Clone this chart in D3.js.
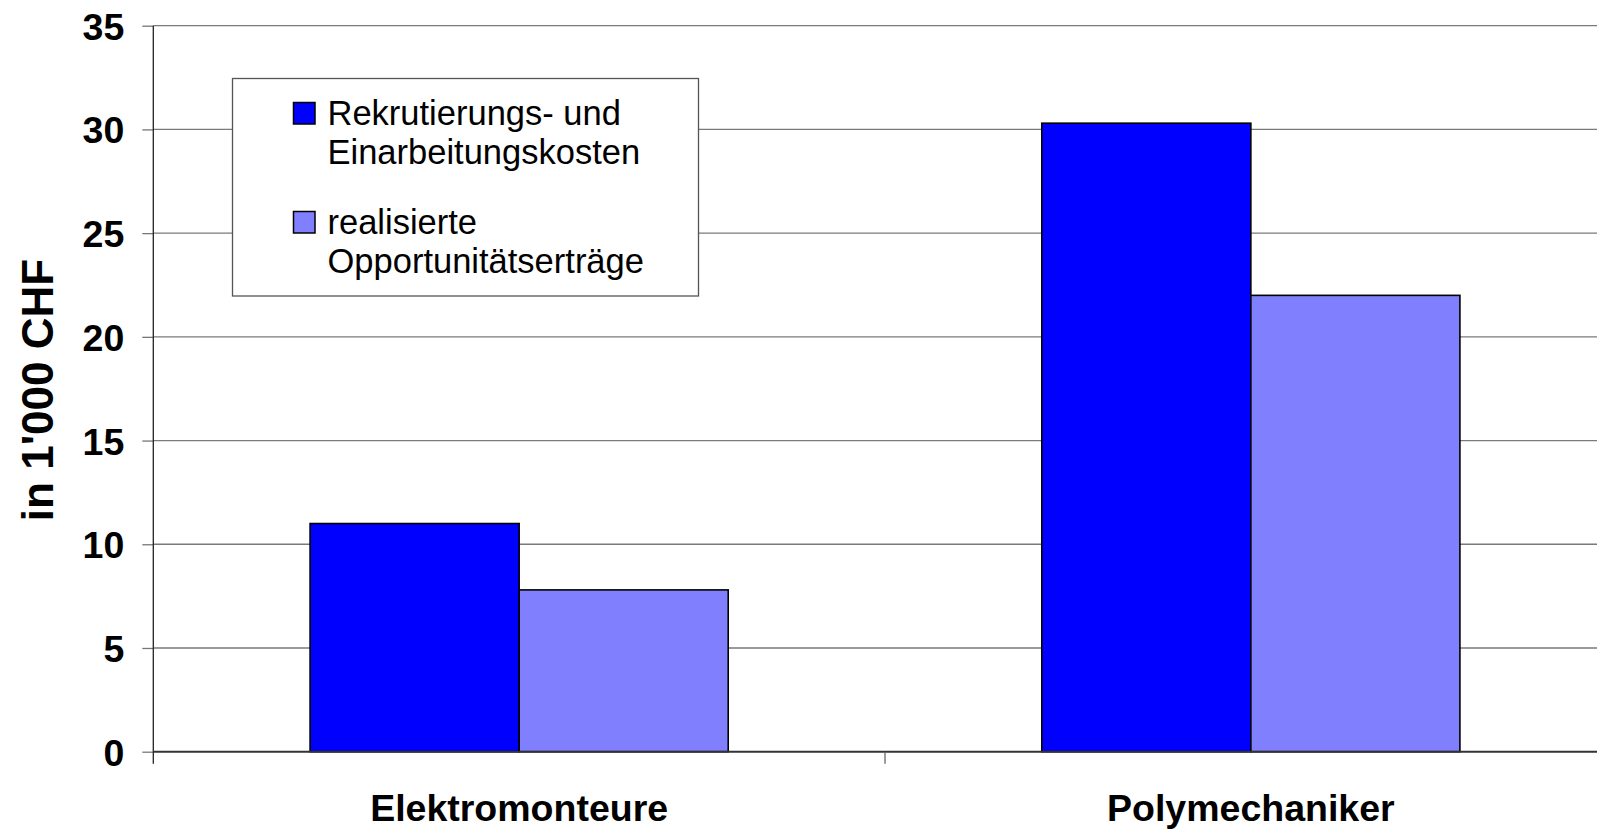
<!DOCTYPE html>
<html>
<head>
<meta charset="utf-8">
<script src="https://cdn.jsdelivr.net/npm/d3@7"></script>
<style>
  html, body { margin: 0; padding: 0; background: #fff; }
  svg { display: block; }
  text { font-family: "Liberation Sans", Arial, sans-serif; }
</style>
</head>
<body>
<svg id="chart" width="1597" height="830"></svg>
<script>
const categories = ["Elektromonteure", "Polymechaniker"];
const seriesNames = ["Rekrutierungs- und Einarbeitungskosten", "realisierte Opportunitätserträge"];
const seriesLegendLines = [["Rekrutierungs- und", "Einarbeitungskosten"], ["realisierte", "Opportunitätserträge"]];
const recruitingCosts = [11.0, 30.3];
const opportunityYields = [7.8, 22.0];
const yTicks = [0, 5, 10, 15, 20, 25, 30, 35];
const yTitle = "in 1'000 CHF";
const colors = ["#0000FF", "#8080FF"];

(function () {
const svg = d3.select("#chart");
const pLeft = 153.3, pRight = 1616.7, pTop = 25.7, pBottom = 751.7;

const x0 = d3.scaleBand().domain(categories).range([pLeft, pRight]).paddingInner(0).paddingOuter(0);
const x1 = d3.scaleBand().domain(seriesNames).range([0, x0.bandwidth()]).paddingInner(0).paddingOuter(0.75);
const y = d3.scaleLinear().domain([0, 35]).range([pBottom, pTop]);

// gridlines
svg.append("g").selectAll("line").data(yTicks.filter(d => d > 0)).join("line")
  .attr("x1", pLeft).attr("x2", 1597)
  .attr("y1", d => y(d)).attr("y2", d => y(d))
  .attr("stroke", "#7a7a7a").attr("stroke-width", 1.3);

// y axis
const yAxis = d3.axisLeft(y).tickValues(yTicks).tickSize(11).tickPadding(18).tickSizeOuter(0);
const yg = svg.append("g").attr("transform", `translate(${pLeft},0)`).call(yAxis);
yg.select(".domain").remove();
yg.selectAll(".tick line").attr("stroke", "#777").attr("stroke-width", 1.3);
yg.selectAll(".tick text")
  .attr("font-family", "'Liberation Sans', Arial, sans-serif")
  .attr("font-size", 37.5).attr("font-weight", "bold").attr("fill", "#000")
  .attr("dy", "0.36em");

// y-axis line (extends slightly below zero)
svg.append("line").attr("x1", pLeft).attr("x2", pLeft).attr("y1", pTop).attr("y2", pBottom + 12)
  .attr("stroke", "#222").attr("stroke-width", 1.3);

// legend
const legend = svg.append("g");
legend.append("rect").attr("x", 232.5).attr("y", 78.5).attr("width", 466).attr("height", 217.5)
  .attr("fill", "#fff").attr("stroke", "#555").attr("stroke-width", 1.3);
const legendRowY = [102.5, 211.5];
seriesLegendLines.forEach((lines, i) => {
  legend.append("rect").attr("x", 293.5).attr("y", legendRowY[i]).attr("width", 21.5).attr("height", 21.5)
    .attr("fill", colors[i]).attr("stroke", "#000").attr("stroke-width", 1.5);
  lines.forEach((ln, j) => {
    legend.append("text").attr("x", 327.5).attr("y", legendRowY[i] + 22.5 + j * 39.3)
      .attr("font-size", 34.5).attr("fill", "#000").text(ln);
  });
});

// bars
const seriesData = [recruitingCosts, opportunityYields];
const barG = svg.append("g");
categories.forEach((c, ci) => {
  seriesNames.forEach((s, si) => {
    const v = seriesData[si][ci];
    barG.append("rect")
      .attr("x", x0(c) + x1(s)).attr("y", y(v))
      .attr("width", x1.bandwidth()).attr("height", y(0) - y(v))
      .attr("fill", colors[si]).attr("stroke", "#000").attr("stroke-width", 1.6);
  });
});

// zero line
svg.append("line").attr("x1", pLeft).attr("x2", 1597).attr("y1", y(0)).attr("y2", y(0))
  .attr("stroke", "#333").attr("stroke-width", 2);

// category tick between groups
svg.append("line").attr("x1", x0(categories[1])).attr("x2", x0(categories[1]))
  .attr("y1", y(0)).attr("y2", y(0) + 12).attr("stroke", "#666").attr("stroke-width", 1.3);

// category labels
svg.append("g").selectAll("text").data(categories).join("text")
  .attr("x", d => x0(d) + x0.bandwidth() / 2).attr("y", 821)
  .attr("text-anchor", "middle").attr("font-size", 37.5).attr("font-weight", "bold").attr("fill", "#000")
  .text(d => d);

// y title
svg.append("text").attr("transform", "translate(53,390) rotate(-90)")
  .attr("text-anchor", "middle").attr("font-size", 44).attr("font-weight", "bold").attr("fill", "#000")
  .text(yTitle);
})();
</script>
</body>
</html>
